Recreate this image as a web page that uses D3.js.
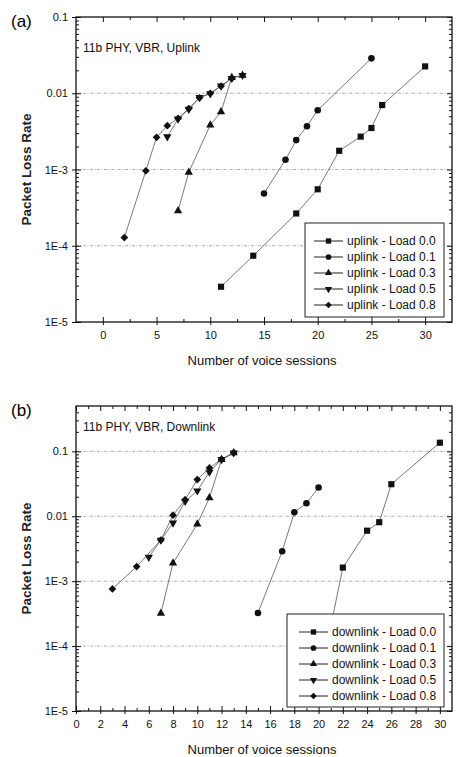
<!DOCTYPE html>
<html>
<head>
<meta charset="utf-8">
<script src="https://cdn.jsdelivr.net/npm/d3@7"></script>
<style>
  body { margin: 0; background: #fff; }
  svg { display: block; font-family: 'Liberation Sans', Arial, sans-serif; }
</style>
</head>
<body>
<div id="chart"></div>
<script>
// load levels (legend labels)
const loads = ['0.0', '0.1', '0.3', '0.5', '0.8']

// (a) uplink - sessions and packet loss per load
const upSessions00 = [11, 14, 18, 20, 22, 24, 25, 26, 30]
const upLoss00 = [2.9e-5, 7.4e-5, 2.65e-4, 5.5e-4, 1.76e-3, 2.7e-3, 3.5e-3, 7.0e-3, 0.0225]
const upSessions01 = [15, 17, 18, 19, 20, 25]
const upLoss01 = [4.85e-4, 1.34e-3, 2.43e-3, 3.7e-3, 6.0e-3, 0.0287]
const upSessions03 = [7, 8, 10, 11, 12, 13]
const upLoss03 = [2.87e-4, 9.2e-4, 3.83e-3, 5.7e-3, 0.0161, 0.0172]
const upSessions05 = [6, 7, 8, 9, 10, 11, 12, 13]
const upLoss05 = [2.69e-3, 4.6e-3, 6.2e-3, 8.8e-3, 0.0099, 0.0125, 0.0157, 0.0172]
const upSessions08 = [2, 4, 5, 6, 7, 8, 9, 10, 11, 12]
const upLoss08 = [1.28e-4, 9.6e-4, 2.64e-3, 3.75e-3, 4.68e-3, 6.3e-3, 8.7e-3, 0.00997, 0.0124, 0.0157]

// (b) downlink - sessions and packet loss per load
const downSessions00 = [21, 22, 24, 25, 26, 30]
const downLoss00 = [2.0e-4, 1.62e-3, 6.0e-3, 8.1e-3, 0.0312, 0.136]
const downSessions01 = [15, 17, 18, 19, 20]
const downLoss01 = [3.24e-4, 2.89e-3, 0.0115, 0.0159, 0.0277]
const downSessions03 = [7, 8, 10, 11, 12, 13]
const downLoss03 = [3.2e-4, 1.9e-3, 7.6e-3, 0.0192, 0.075, 0.095]
const downSessions05 = [6, 7, 8, 9, 10, 11, 12, 13]
const downLoss05 = [2.34e-3, 4.3e-3, 7.9e-3, 0.017, 0.0247, 0.048, 0.075, 0.095]
const downSessions08 = [3, 5, 7, 8, 9, 10, 11, 12, 13]
const downLoss08 = [7.6e-4, 1.68e-3, 4.3e-3, 0.0104, 0.018, 0.0368, 0.0555, 0.075, 0.095]

// tick labels
const yTickValues = [1e-5, 1e-4, 1e-3, 1e-2, 1e-1]
const yTickLabels = ['1E-5', '1E-4', '1E-3', '0.01', '0.1']
const upXTicks = [0, 5, 10, 15, 20, 25, 30]
const downXTicks = [0, 2, 4, 6, 8, 10, 12, 14, 16, 18, 20, 22, 24, 26, 28, 30]

const W = 457
const H = 757

const svg = d3
  .select('#chart')
  .append('svg')
  .attr('width', W)
  .attr('height', H)

// marker shapes: square, circle, triangle, down triangle, diamond
const shapes = [
  { type: d3.symbolSquare, rot: 0, size: 38 },
  { type: d3.symbolCircle, rot: 0, size: 34 },
  { type: d3.symbolTriangle, rot: 0, size: 30 },
  { type: d3.symbolTriangle, rot: 180, size: 30 },
  { type: d3.symbolSquare, rot: 45, size: 30 }
]

function logMinors(lo, hi) {
  const out = []
  for (let e = Math.floor(Math.log10(lo)); e <= Math.ceil(Math.log10(hi)); e++) {
    for (let k = 2; k <= 9; k++) {
      const v = k * Math.pow(10, e)
      if (v > lo && v < hi) out.push(v)
    }
  }
  return out
}

function drawPanel(p) {
  const x = d3.scaleLinear().domain(p.xDomain).range([p.left, p.right])
  const y = d3.scaleLog().domain(p.yDomain).range([p.bottom, p.top])
  const g = svg.append('g')

  // dotted grid at each decade
  g.selectAll('.grid')
    .data(yTickValues.filter(v => v > p.yDomain[0] && v < p.yDomain[1]))
    .enter()
    .append('line')
    .attr('x1', p.left)
    .attr('x2', p.right)
    .attr('y1', d => y(d))
    .attr('y2', d => y(d))
    .attr('stroke', '#999')
    .attr('stroke-width', 0.8)
    .attr('stroke-dasharray', '3,1.5,1,1.5')

  const yMinor = logMinors(p.yDomain[0], p.yDomain[1])

  // left axis: labels + inner and outer major ticks, inner minor ticks
  g.append('g')
    .attr('transform', `translate(${p.left},0)`)
    .call(d3.axisLeft(y).tickValues(yTickValues).tickSize(-5).tickPadding(8)
      .tickFormat((d, i) => yTickLabels[i]))
    .call(a => a.selectAll('text').style('font-size', '11px').attr('fill', '#111'))
  g.append('g')
    .attr('transform', `translate(${p.left},0)`)
    .call(d3.axisLeft(y).tickValues(yTickValues).tickSize(4).tickFormat(''))
  g.append('g')
    .attr('transform', `translate(${p.left},0)`)
    .call(d3.axisLeft(y).tickValues(yMinor).tickSize(-3).tickFormat(''))
  // right axis mirror
  g.append('g')
    .attr('transform', `translate(${p.right},0)`)
    .call(d3.axisRight(y).tickValues(yTickValues).tickSize(-5).tickFormat(''))
  g.append('g')
    .attr('transform', `translate(${p.right},0)`)
    .call(d3.axisRight(y).tickValues(yMinor).tickSize(-3).tickFormat(''))

  // bottom axis
  g.append('g')
    .attr('transform', `translate(0,${p.bottom})`)
    .call(d3.axisBottom(x).tickValues(p.xTicks).tickSize(-5).tickPadding(9)
      .tickFormat(d3.format('d')))
    .call(a => a.selectAll('text').style('font-size', '11px').attr('fill', '#111'))
  g.append('g')
    .attr('transform', `translate(0,${p.bottom})`)
    .call(d3.axisBottom(x).tickValues(p.xTicks).tickSize(3).tickFormat(''))
  g.append('g')
    .attr('transform', `translate(0,${p.bottom})`)
    .call(d3.axisBottom(x).tickValues(p.xMinor).tickSize(-3).tickFormat(''))
  // top axis mirror
  g.append('g')
    .attr('transform', `translate(0,${p.top})`)
    .call(d3.axisTop(x).tickValues(p.xTicks).tickSize(-5).tickFormat(''))
  g.append('g')
    .attr('transform', `translate(0,${p.top})`)
    .call(d3.axisTop(x).tickValues(p.xMinor).tickSize(-3).tickFormat(''))

  g.selectAll('.domain').remove()
  g.selectAll('.tick line').attr('stroke', '#111')

  // frame
  g.append('rect')
    .attr('x', p.left)
    .attr('y', p.top)
    .attr('width', p.right - p.left)
    .attr('height', p.bottom - p.top)
    .attr('fill', 'none')
    .attr('stroke', '#111')
    .attr('stroke-width', 1.3)

  // series
  const line = d3.line().x(d => x(d[0])).y(d => y(d[1]))
  p.series.forEach((s, i) => {
    const pts = d3.zip(s.sessions, s.loss)
    g.append('path')
      .datum(pts)
      .attr('d', line)
      .attr('fill', 'none')
      .attr('stroke', '#555')
      .attr('stroke-width', 0.8)
    g.selectAll(null)
      .data(pts)
      .enter()
      .append('path')
      .attr('d', d3.symbol().type(shapes[i].type).size(shapes[i].size))
      .attr('transform', d => `translate(${x(d[0])},${y(d[1])}) rotate(${shapes[i].rot})`)
      .attr('fill', '#111')
  })

  // legend
  const lg = g.append('g')
  lg.append('rect')
    .attr('x', p.legend.x)
    .attr('y', p.legend.y)
    .attr('width', p.legend.w)
    .attr('height', p.legend.h)
    .attr('fill', '#fff')
    .attr('stroke', '#222')
    .attr('stroke-width', 1)
  loads.forEach((ld, i) => {
    const ry = p.legend.y + 18 + i * 16
    lg.append('line')
      .attr('x1', p.legend.lx1)
      .attr('x2', p.legend.lx2)
      .attr('y1', ry)
      .attr('y2', ry)
      .attr('stroke', '#222')
      .attr('stroke-width', 1)
    lg.append('path')
      .attr('d', d3.symbol().type(shapes[i].type).size(shapes[i].size * 0.75))
      .attr('transform', `translate(${(p.legend.lx1 + p.legend.lx2) / 2},${ry}) rotate(${shapes[i].rot})`)
      .attr('fill', '#111')
    lg.append('text')
      .attr('x', p.legend.lx2 + 4)
      .attr('y', ry)
      .attr('dy', '0.35em')
      .style('font-size', '12px')
      .attr('fill', '#111')
      .text(p.prefix + ' - Load ' + ld)
  })

  // panel label, annotation and axis titles
  svg.append('text')
    .attr('x', 11)
    .attr('y', p.top + 10)
    .style('font-size', '17px')
    .text(p.panel)
  svg.append('text')
    .attr('x', p.left + 7)
    .attr('y', p.noteY)
    .style('font-size', '12px')
    .attr('fill', '#111')
    .text(p.note)
  svg.append('text')
    .attr('x', (p.left + p.right) / 2 - 2)
    .attr('y', p.bottom + 43)
    .attr('text-anchor', 'middle')
    .style('font-size', '13px')
    .attr('fill', '#111')
    .text('Number of voice sessions')
  svg.append('text')
    .attr('transform', `translate(31,${(p.top + p.bottom) / 2}) rotate(-90)`)
    .attr('text-anchor', 'middle')
    .style('font-size', '13.5px')
    .style('font-weight', 'bold')
    .attr('fill', '#222')
    .text('Packet Loss Rate')
}

drawPanel({
  panel: '(a)',
  note: '11b PHY, VBR, Uplink',
  noteY: 52,
  prefix: 'uplink',
  left: 76, right: 452, top: 17, bottom: 322,
  xDomain: [-2.5, 32.5],
  yDomain: [1e-5, 0.1],
  xTicks: upXTicks,
  xMinor: [2.5, 7.5, 12.5, 17.5, 22.5, 27.5],
  legend: { x: 305, y: 223, w: 139, h: 94, lx1: 314, lx2: 343 },
  series: [
    { sessions: upSessions00, loss: upLoss00 },
    { sessions: upSessions01, loss: upLoss01 },
    { sessions: upSessions03, loss: upLoss03 },
    { sessions: upSessions05, loss: upLoss05 },
    { sessions: upSessions08, loss: upLoss08 }
  ]
})

drawPanel({
  panel: '(b)',
  note: '11b PHY, VBR, Downlink',
  noteY: 431,
  prefix: 'downlink',
  left: 76, right: 452, top: 406, bottom: 711,
  xDomain: [0, 31],
  yDomain: [1e-5, 0.5],
  xTicks: downXTicks,
  xMinor: d3.range(1, 31, 2),
  legend: { x: 287, y: 614, w: 157, h: 93, lx1: 299, lx2: 328 },
  series: [
    { sessions: downSessions00, loss: downLoss00 },
    { sessions: downSessions01, loss: downLoss01 },
    { sessions: downSessions03, loss: downLoss03 },
    { sessions: downSessions05, loss: downLoss05 },
    { sessions: downSessions08, loss: downLoss08 }
  ]
})
</script>
</body>
</html>
